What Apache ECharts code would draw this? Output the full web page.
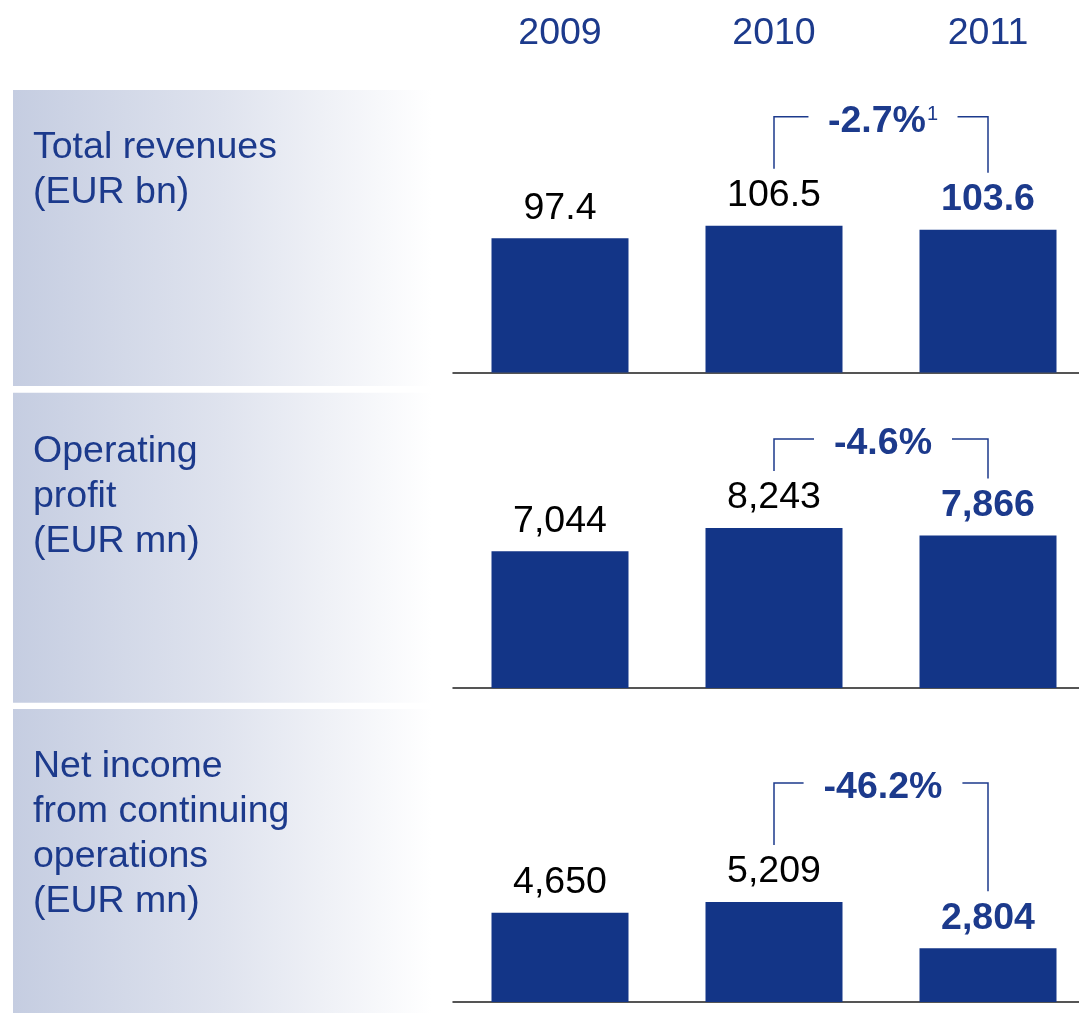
<!DOCTYPE html>
<html>
<head>
<meta charset="utf-8">
<script src="https://cdn.jsdelivr.net/npm/echarts@6/dist/echarts.min.js"></script>
<style>
html,body{margin:0;padding:0;background:#fff;}
#c{width:1079px;height:1013px;}
</style>
</head>
<body>
<div id="c"></div>
<script>
// ---- data ----
const years = ['2009', '2010', '2011'];
const revenues = [97.4, 106.5, 103.6];          // EUR bn
const operatingProfit = [7044, 8243, 7866];     // EUR mn
const netIncome = [4650, 5209, 2804];           // EUR mn
const changeLabels = ['-2.7%', '-4.6%', '-46.2%'];
const changeFootnotes = ['1', '', ''];
const panelTitles = [
  'Total revenues\n(EUR bn)',
  'Operating\nprofit\n(EUR mn)',
  'Net income\nfrom continuing\noperations\n(EUR mn)'
];
const valueDecimals = [1, 0, 0];

// ---- layout / style ----
const FONT = '"Liberation Sans", Arial, Helvetica, sans-serif';
const FS = 37.5;
const BLUE_TEXT = '#1c3a8c';
const BAR = '#133587';
const H = 1013;
const baselines = [372.5, 688, 1002];
const axisMax = [200, 15000, 15000];
const pxPerUnit = [1.378, 0.0194, 0.0192];
const titleTops = [125, 429, 744];
const panelRects = [[13, 90, 419, 296], [13, 392.7, 419, 310], [13, 709, 419, 304]];
const bracketRise = [52, 32, 62];
const bracketDrop = 57;
const panels = [revenues, operatingProfit, netIncome];

const chart = echarts.init(document.getElementById('c'), null, {renderer: 'canvas'});

function fmt(v, dec) {
  return dec > 0 ? v.toFixed(dec) : v.toLocaleString('en-US');
}

const measureCtx = document.createElement('canvas').getContext('2d');
function textW(t, font) { measureCtx.font = font; return measureCtx.measureText(t).width; }

const grids = [], xAxes = [], yAxes = [], series = [];
panels.forEach((vals, i) => {
  const top = baselines[i] - axisMax[i] * pxPerUnit[i];
  grids.push({left: 453, right: -16, top: top, bottom: H - baselines[i], outerBoundsMode: 'none', containLabel: false});
  xAxes.push({
    type: 'category', gridIndex: i, data: years, position: 'bottom',
    axisLine: {show: true, onZero: false, lineStyle: {color: '#1e1e1e', width: 1.5}},
    axisTick: {show: false}, axisLabel: {show: false}, splitLine: {show: false}
  });
  yAxes.push({type: 'value', gridIndex: i, min: 0, max: axisMax[i], show: false, splitLine: {show: false}});
  series.push({
    type: 'bar', xAxisIndex: i, yAxisIndex: i, barWidth: 137,
    itemStyle: {color: BAR},
    data: vals.map((v, k) => {
      const last = k === vals.length - 1;
      return {
        value: v,
        label: {
          show: true, position: 'top', distance: 11,
          formatter: () => fmt(v, valueDecimals[i]),
          fontFamily: FONT, fontSize: FS,
          fontWeight: last ? 'bold' : 'normal',
          color: last ? BLUE_TEXT : '#000'
        }
      };
    })
  });
  const main = changeLabels[i], sup = changeFootnotes[i];
  const tw = textW(main, 'bold ' + FS + 'px ' + FONT) + (sup ? textW(sup, '20px ' + FONT) : 0);
  series.push({
    type: 'custom', xAxisIndex: i, yAxisIndex: i, clip: false, silent: true,
    encode: {x: [0, 2], y: [1, 3]},
    data: [[1, vals[1], 2, vals[2]]],
    renderItem: function (params, api) {
      const p1 = api.coord([api.value(0), api.value(1)]);
      const p2 = api.coord([api.value(2), api.value(3)]);
      const endL = p1[1] - bracketDrop, endR = p2[1] - bracketDrop;
      const topY = Math.min(endL, endR) - bracketRise[i];
      const cx = (p1[0] + p2[0]) / 2 + 2;
      const half = tw / 2 + 20;
      const ls = {stroke: BLUE_TEXT, lineWidth: 1.5, fill: 'none'};
      return {
        type: 'group',
        children: [
          {type: 'polyline', shape: {points: [[p1[0], endL], [p1[0], topY], [cx - half, topY]]}, style: ls},
          {type: 'polyline', shape: {points: [[cx + half, topY], [p2[0], topY], [p2[0], endR]]}, style: ls},
          {
            type: 'text', x: cx, y: topY + 5,
            style: {
              text: '{b|' + main + '}' + (sup ? '{s|' + sup + '}' : ''),
              align: 'center', verticalAlign: 'middle',
              rich: {
                b: {fontFamily: FONT, fontSize: FS, fontWeight: 'bold', fill: BLUE_TEXT},
                s: {fontFamily: FONT, fontSize: 20, fill: BLUE_TEXT, verticalAlign: 'top', padding: [2, 0, 0, 1]}
              }
            }
          }
        ]
      };
    }
  });
});

// year labels along the top of the first panel
xAxes.push({
  type: 'category', gridIndex: 0, data: years, position: 'top',
  axisLine: {show: false}, axisTick: {show: false}, splitLine: {show: false},
  axisLabel: {show: true, fontFamily: FONT, fontSize: FS, color: BLUE_TEXT, verticalAlign: 'middle',
    margin: (baselines[0] - axisMax[0] * pxPerUnit[0]) - 34}
});

const option = {
  backgroundColor: '#ffffff',
  animation: false,
  title: panelTitles.map((t, i) => ({
    text: t, left: 33, top: titleTops[i], padding: 0,
    textStyle: {fontFamily: FONT, fontSize: FS, lineHeight: 45, fontWeight: 'normal', color: BLUE_TEXT}
  })),
  graphic: panelRects.map(r => ({
    type: 'rect', z: -10, silent: true,
    shape: {x: r[0], y: r[1], width: r[2], height: r[3]},
    style: {fill: new echarts.graphic.LinearGradient(0, 0, 1, 0, [
      {offset: 0, color: '#c5cde1'},
      {offset: 0.5, color: '#dfe3ee'},
      {offset: 1, color: '#ffffff'}
    ])}
  })),
  grid: grids,
  xAxis: xAxes,
  yAxis: yAxes,
  series: series
};
chart.setOption(option);
</script>
</body>
</html>
